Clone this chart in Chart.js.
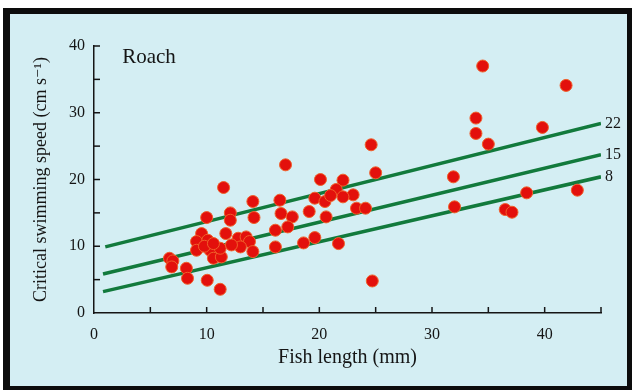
<!DOCTYPE html>
<html>
<head>
<meta charset="utf-8">
<script src="https://cdn.jsdelivr.net/npm/chart.js@4"></script>
<style>
  body { margin: 0; background: #fff; }
  #wrap { width: 632px; height: 390px; }
</style>
</head>
<body>
<div id="wrap"><canvas id="chart" width="632" height="390"></canvas></div>
<script>
// fish length (mm) / critical swimming speed (cm s-1)
const fishLength = [
  34.5, 41.9, 33.9, 33.9, 35.0, 39.8, 24.6, 25.0, 31.9, 32.0, 38.4, 42.9, 36.5, 37.1, 24.7,
  21.7, 17.0, 20.1, 22.1, 21.5, 23.0, 22.1, 19.6, 20.5, 23.3, 24.1, 20.6, 19.1, 16.5, 16.6,
  17.6, 17.2, 16.1, 16.1, 18.6, 19.6, 21.0,
  11.5, 14.1, 14.2, 10.0, 12.1, 12.1, 9.55, 11.7, 9.1, 10.1, 9.1, 10.3, 10.6, 11.3, 11.2,
  12.8, 13.5, 13.8, 14.1, 13.0, 12.2, 6.7, 7.0, 6.9, 8.2, 8.3, 10.05, 11.2, 9.8, 10.6
];
const swimSpeed = [
  37.0, 34.1, 29.2, 26.9, 25.3, 27.8, 25.2, 21.0, 20.4, 15.9, 18.0, 18.4, 15.5, 15.1, 4.8,
  10.4, 22.2, 20.0, 19.9, 18.5, 17.7, 17.4, 17.2, 16.7, 15.7, 15.7, 14.4, 15.2, 16.9, 14.9,
  14.4, 12.9, 12.4, 9.9, 10.5, 11.3, 17.6,
  18.8, 16.7, 14.3, 14.3, 15.0, 13.9, 11.9, 11.9, 10.7, 10.9, 9.4, 9.4, 8.2, 8.4, 9.7,
  11.2, 11.4, 10.7, 9.2, 9.9, 10.2, 8.2, 7.8, 6.9, 6.7, 5.2, 4.9, 3.55, 10.0, 10.4
];

// fitted lines, labelled 22, 15, 8
const lineLabels = ['22', '15', '8'];
const lineX = [[1.0, 45], [0.8, 45], [0.8, 45]];
const lineY = [[9.9, 28.4], [5.85, 23.7], [3.2, 20.4]];

const serif = '"Liberation Serif", "DejaVu Serif", serif';
const ink = '#151515';

const points = fishLength.map((x, i) => ({ x: x, y: swimSpeed[i] }));

const lineSets = lineLabels.map((lab, k) => ({
  type: 'line',
  label: lab,
  data: lineX[k].map((x, i) => ({ x: x, y: lineY[k][i] })),
  borderColor: '#127a3c',
  borderWidth: 3.5,
  pointRadius: 0,
  fill: false,
  order: 2
}));

const framePlugin = {
  id: 'frame',
  beforeDraw(c) {
    const ctx = c.ctx;
    ctx.save();
    ctx.fillStyle = '#ffffff';
    ctx.fillRect(0, 0, 632, 390);
    ctx.fillStyle = '#0c0c0c';
    ctx.fillRect(3, 8, 629, 382);
    ctx.fillStyle = '#d4eef3';
    ctx.fillRect(10, 14, 617, 372);
    ctx.restore();
  }
};

const extrasPlugin = {
  id: 'extras',
  afterDraw(c) {
    const ctx = c.ctx;
    const xs = c.scales.x, ys = c.scales.y;
    ctx.save();
    ctx.strokeStyle = ink;
    ctx.lineWidth = 1.5;
    // inward ticks every 5
    for (let v = 5; v <= 45; v += 5) {
      const px = xs.getPixelForValue(v);
      ctx.beginPath();
      ctx.moveTo(px, ys.bottom);
      ctx.lineTo(px, ys.bottom - 6);
      ctx.stroke();
    }
    for (let v = 5; v <= 40; v += 5) {
      const py = ys.getPixelForValue(v);
      ctx.beginPath();
      ctx.moveTo(xs.left, py);
      ctx.lineTo(xs.left + 6, py);
      ctx.stroke();
    }
    // line labels
    ctx.fillStyle = ink;
    ctx.font = '16px ' + serif;
    ctx.textBaseline = 'middle';
    ctx.textAlign = 'left';
    lineLabels.forEach((lab, k) => {
      const n = lineX[k].length - 1;
      ctx.fillText(lab, xs.getPixelForValue(lineX[k][n]) + 4, ys.getPixelForValue(lineY[k][n]));
    });
    // panel label
    ctx.font = '21px ' + serif;
    ctx.fillText('Roach', xs.getPixelForValue(2.5), ys.getPixelForValue(38.3));
    ctx.restore();
  }
};

new Chart(document.getElementById('chart'), {
  type: 'scatter',
  data: {
    datasets: [
      {
        label: 'Roach',
        data: points,
        backgroundColor: '#e3100c',
        borderColor: '#f0602a',
        borderWidth: 1,
        pointRadius: 6,
        order: 1
      },
      ...lineSets
    ]
  },
  options: {
    responsive: false,
    animation: false,
    layout: { padding: { left: 30, right: 31, top: 46, bottom: 20 } },
    plugins: { legend: { display: false }, tooltip: { enabled: false } },
    scales: {
      x: {
        type: 'linear',
        min: 0, max: 45,
        afterFit(s) { s.height = 57; },
        grid: { display: false, drawTicks: false },
        border: { display: true, color: ink, width: 1.5 },
        ticks: {
          stepSize: 5,
          padding: 12,
          color: ink,
          font: { family: serif, size: 16 },
          callback: v => (v % 10 === 0 ? v : '')
        },
        title: {
          display: true,
          text: 'Fish length (mm)',
          color: ink,
          font: { family: serif, size: 20 },
          padding: 0
        }
      },
      y: {
        type: 'linear',
        min: 0, max: 40,
        afterFit(s) { s.width = 64; },
        grid: { display: false, drawTicks: false },
        border: { display: true, color: ink, width: 1.5 },
        ticks: {
          stepSize: 5,
          padding: 9,
          color: ink,
          font: { family: serif, size: 16 },
          callback: v => (v % 10 === 0 ? v : '')
        },
        title: {
          display: true,
          text: 'Critical swimming speed (cm s\u207B\u00B9)',
          color: ink,
          font: { family: serif, size: 18 },
          padding: 0
        }
      }
    }
  },
  plugins: [framePlugin, extrasPlugin]
});
</script>
</body>
</html>
